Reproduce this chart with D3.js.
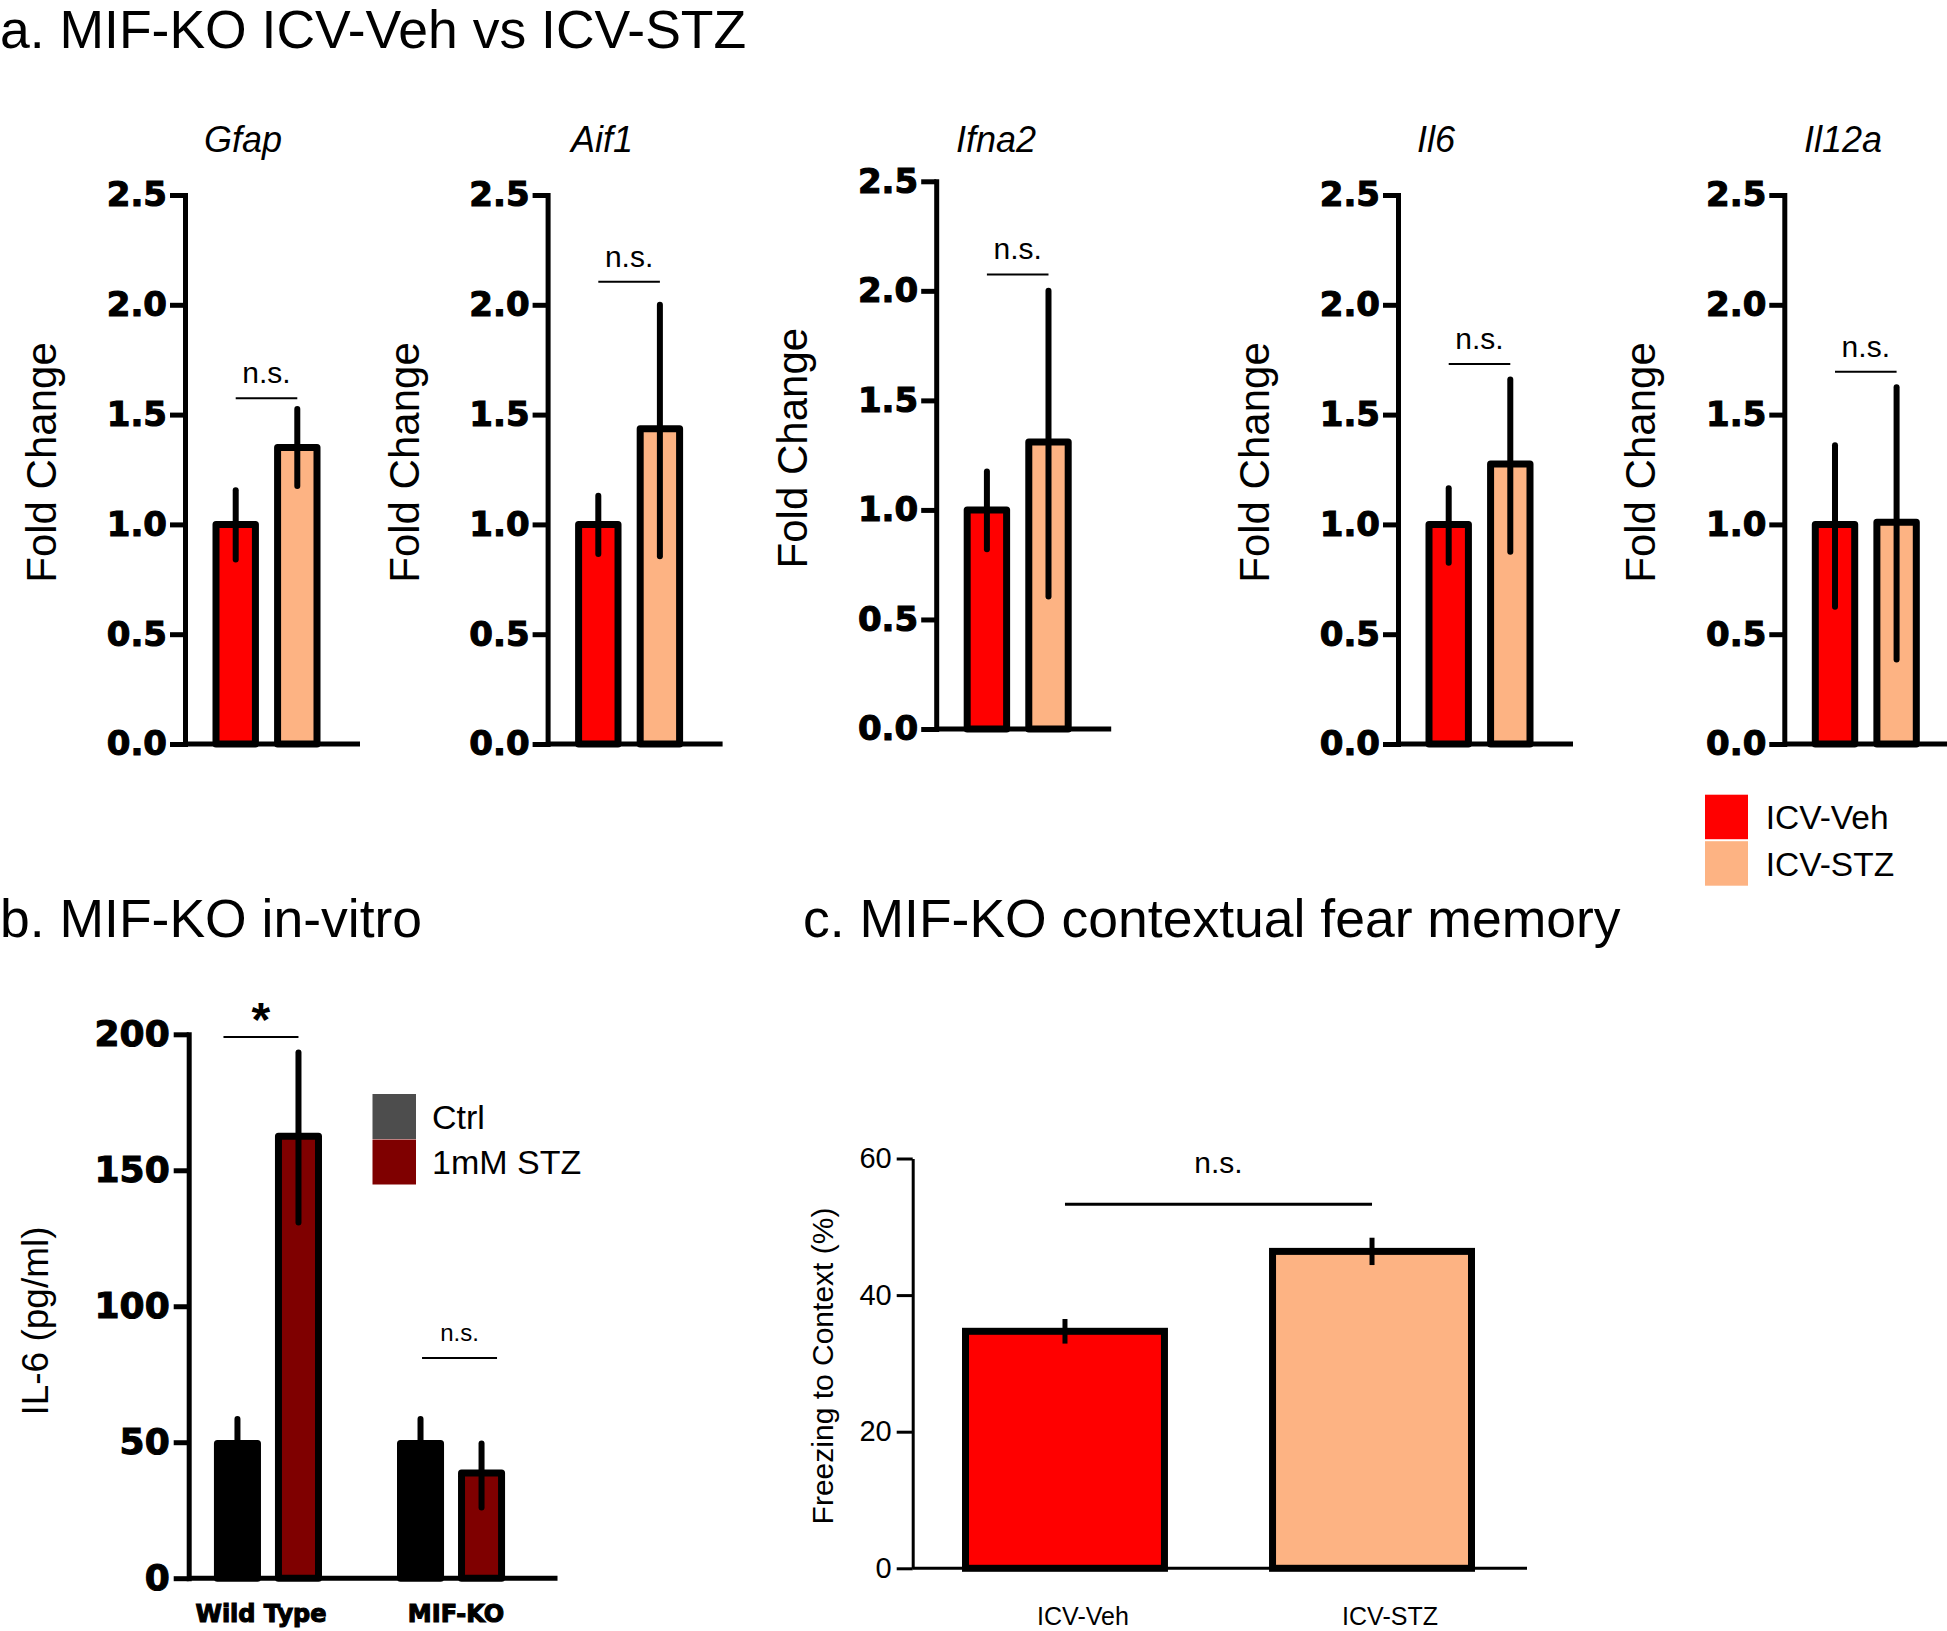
<!DOCTYPE html>
<html><head><meta charset="utf-8">
<script src="https://cdn.jsdelivr.net/npm/d3@7"></script>
<style>body{margin:0;background:#fff}svg{display:block}</style>
</head><body>
<svg id="chart" width="1947" height="1631"></svg>
<script>
// ---------------- DATA ----------------
// Panel a: fold change per gene
const genes = ["Gfap", "Aif1", "Ifna2", "Il6", "Il12a"];
const treatments = ["ICV-Veh", "ICV-STZ"];
const treatmentColors = ["#ff0000", "#fdb383"];
const vehMean = [1.00, 1.00, 1.00, 1.00, 1.00];
const vehUpper = [1.155, 1.13, 1.175, 1.165, 1.36];
const vehLower = [0.84, 0.865, 0.82, 0.825, 0.625];
const stzMean = [1.35, 1.435, 1.31, 1.275, 1.01];
const stzUpper = [1.525, 2.00, 2.00, 1.66, 1.625];
const stzLower = [1.175, 0.855, 0.605, 0.875, 0.385];
const sigLabelA = ["n.s.", "n.s.", "n.s.", "n.s.", "n.s."];
const sigLevelA = [1.575, 2.105, 2.075, 1.73, 1.695];
const foldTicks = [0, 0.5, 1.0, 1.5, 2.0, 2.5];

// Panel b: IL-6 in vitro
const genotypes = ["Wild Type", "MIF-KO"];
const conditions = ["Ctrl", "1mM STZ"];
const conditionBarColors = ["#000000", "#7f0000"];
const conditionLegendColors = ["#4d4d4d", "#7f0000"];
const il6Ctrl = [49.5, 49.5];
const il6CtrlUpper = [58.5, 58.5];
const il6CtrlLower = [40.5, 40.5];
const il6Stz = [162.5, 38.7];
const il6StzUpper = [193.3, 49.5];
const il6StzLower = [130.8, 26.0];
const sigLabelB = ["*", "n.s."];
const sigLevelB = [199, 81];
const il6Ticks = [0, 50, 100, 150, 200];

// Panel c: contextual fear memory
const freezeGroups = ["ICV-Veh", "ICV-STZ"];
const freezeMean = [34.7, 46.4];
const freezeUpper = [36.5, 48.4];
const freezeLower = [32.9, 44.4];
const sigLabelC = "n.s.";
const sigLevelC = 53.3;
const freezeTicks = [0, 20, 40, 60];

// ---------------- LAYOUT ----------------
const svg = d3.select("#chart");
const SANS = "'Liberation Sans', Arial, Helvetica, sans-serif";
const HEAVY = "'DejaVu Sans', sans-serif";

function txt(g, x, y, s, size, opts = {}) {
  return g.append("text").attr("x", x).attr("y", y).text(s)
    .attr("font-family", opts.family || SANS)
    .attr("font-size", size)
    .attr("font-weight", opts.weight || "normal")
    .attr("font-style", opts.style || "normal")
    .attr("text-anchor", opts.anchor || "start")
    .attr("fill", "#000");
}
function heavy(sel) {
  sel.attr("font-family", HEAVY).attr("font-weight", "bold")
    .attr("stroke", "#000").attr("stroke-width", 1.1).attr("fill", "#000");
}

// Panel titles
txt(svg, 0, 48, "a. MIF-KO ICV-Veh vs ICV-STZ", 53.5);
txt(svg, 0, 937, "b. MIF-KO in-vitro", 53.5);
txt(svg, 803, 937, "c. MIF-KO contextual fear memory", 53.5);

// ---- Panel a ----
const aAxisX = [185, 547.6, 936.2, 1398, 1784.3];
const aBottom = [744, 744, 729, 744, 744];
const aTop = [195, 195, 181.3, 195, 195];
const aTitleX = [243, 602, 996, 1436, 1843];

genes.forEach((gene, i) => {
  const g = svg.append("g");
  const ax = aAxisX[i];
  const y = d3.scaleLinear().domain([0, 2.5]).range([aBottom[i], aTop[i]]);
  const x = d3.scaleBand().domain(treatments)
    .range([ax + 31, ax + 132]).paddingInner(0.36).paddingOuter(0);

  const yAxis = g.append("g").attr("transform", `translate(${ax},0)`)
    .call(d3.axisLeft(y).tickValues(foldTicks).tickFormat(d3.format(".1f"))
      .tickSize(15).tickSizeOuter(0).tickPadding(3));
  yAxis.select(".domain").attr("stroke", "#000").attr("stroke-width", 5).attr("stroke-linecap", "square");
  yAxis.selectAll(".tick line").attr("stroke", "#000").attr("stroke-width", 5);
  yAxis.selectAll(".tick text").attr("font-size", 34).call(heavy);
  g.append("line").attr("x1", ax).attr("x2", ax + 175)
    .attr("y1", y(0)).attr("y2", y(0)).attr("stroke", "#000").attr("stroke-width", 5);

  const means = [vehMean[i], stzMean[i]];
  const ups = [vehUpper[i], stzUpper[i]];
  const los = [vehLower[i], stzLower[i]];
  treatments.forEach((t, j) => {
    g.append("rect").attr("x", x(t)).attr("y", y(means[j]))
      .attr("width", x.bandwidth()).attr("height", y(0) - y(means[j]))
      .attr("fill", treatmentColors[j]).attr("stroke", "#000").attr("stroke-width", 7)
      .attr("stroke-linejoin", "round");
  });
  treatments.forEach((t, j) => {
    const cx = x(t) + x.bandwidth() / 2;
    g.append("line").attr("x1", cx).attr("x2", cx)
      .attr("y1", y(ups[j])).attr("y2", y(los[j]))
      .attr("stroke", "#000").attr("stroke-width", 6).attr("stroke-linecap", "round");
  });
  const c0 = x(treatments[0]) + x.bandwidth() / 2, c1 = x(treatments[1]) + x.bandwidth() / 2;
  g.append("line").attr("x1", c0).attr("x2", c1)
    .attr("y1", y(sigLevelA[i])).attr("y2", y(sigLevelA[i]))
    .attr("stroke", "#000").attr("stroke-width", 2);
  txt(g, (c0 + c1) / 2, y(sigLevelA[i]) - 15, sigLabelA[i], 30, { anchor: "middle" });
  txt(g, aTitleX[i], 152, gene, 36, { style: "italic", anchor: "middle" });
  const ly = (aTop[i] + aBottom[i]) / 2 - 7;
  txt(g, 0, 0, "Fold Change", 42, { anchor: "middle" })
    .attr("transform", `translate(${ax - 144 + 15},${ly}) rotate(-90)`);
});

// legend a
const legA = svg.append("g");
const legAY = [794.7, 841.2];
treatments.forEach((t, j) => {
  legA.append("rect").attr("x", 1705).attr("y", legAY[j]).attr("width", 43).attr("height", 44.5)
    .attr("fill", treatmentColors[j]);
  txt(legA, 1765.7, legAY[j] + 22 + 12.5, t, 33.5);
});

// ---- Panel b ----
{
  const g = svg.append("g");
  const ax = 188.7;
  const y = d3.scaleLinear().domain([0, 200]).range([1578.2, 1034.3]);
  const x0 = d3.scaleBand().domain(genotypes).range([ax, 530.3]).paddingInner(0.448).paddingOuter(0.157);
  const x1 = d3.scaleBand().domain(conditions).range([0, x0.bandwidth()]).paddingInner(0.344).paddingOuter(0);

  const yAxis = g.append("g").attr("transform", `translate(${ax},0)`)
    .call(d3.axisLeft(y).tickValues(il6Ticks).tickSize(15).tickSizeOuter(0).tickPadding(4));
  yAxis.select(".domain").attr("stroke", "#000").attr("stroke-width", 5).attr("stroke-linecap", "square");
  yAxis.selectAll(".tick line").attr("stroke", "#000").attr("stroke-width", 5);
  yAxis.selectAll(".tick text").attr("font-size", 36).call(heavy);
  g.append("line").attr("x1", ax).attr("x2", 557.5).attr("y1", y(0)).attr("y2", y(0))
    .attr("stroke", "#000").attr("stroke-width", 5);

  const means = [il6Ctrl, il6Stz], ups = [il6CtrlUpper, il6StzUpper], los = [il6CtrlLower, il6StzLower];
  const labelShift = [-7, 5];
  genotypes.forEach((gt, i) => {
    conditions.forEach((cnd, j) => {
      g.append("rect").attr("x", x0(gt) + x1(cnd)).attr("y", y(means[j][i]))
        .attr("width", x1.bandwidth()).attr("height", y(0) - y(means[j][i]))
        .attr("fill", conditionBarColors[j]).attr("stroke", "#000").attr("stroke-width", 7)
        .attr("stroke-linejoin", "round");
    });
    conditions.forEach((cnd, j) => {
      const cx = x0(gt) + x1(cnd) + x1.bandwidth() / 2;
      g.append("line").attr("x1", cx).attr("x2", cx)
        .attr("y1", y(ups[j][i])).attr("y2", y(los[j][i]))
        .attr("stroke", "#000").attr("stroke-width", 6).attr("stroke-linecap", "round");
    });
    txt(g, x0(gt) + x0.bandwidth() / 2 + labelShift[i], 1622, gt, 24, { anchor: "middle" }).call(heavy);
  });
  const sigOffsets = [[-44.5, 30.5], [-29, 46]];
  genotypes.forEach((gt, i) => {
    const gc = x0(gt) + x0.bandwidth() / 2;
    const xa = gc + sigOffsets[i][0], xb = gc + sigOffsets[i][1];
    const ly = y(sigLevelB[i]);
    g.append("line").attr("x1", xa).attr("x2", xb).attr("y1", ly).attr("y2", ly)
      .attr("stroke", "#000").attr("stroke-width", 2);
    if (sigLabelB[i] === "*") {
      txt(g, (xa + xb) / 2, ly - 1, sigLabelB[i], 48, { anchor: "middle", weight: "bold" });
    } else {
      txt(g, (xa + xb) / 2, ly - 17, sigLabelB[i], 24, { anchor: "middle" });
    }
  });
  const legY = [1094, 1139.5];
  conditions.forEach((cnd, j) => {
    g.append("rect").attr("x", 372.5).attr("y", legY[j]).attr("width", 43.5).attr("height", 45)
      .attr("fill", conditionLegendColors[j]);
    txt(g, 432, legY[j] + 22.5 + 12, cnd, 34);
  });
  txt(g, 0, 0, "IL-6 (pg/ml)", 37, { anchor: "middle" })
    .attr("transform", `translate(${35 + 13},1321) rotate(-90)`);
}

// ---- Panel c ----
{
  const g = svg.append("g");
  const ax = 912.7;
  const y = d3.scaleLinear().domain([0, 60]).range([1568.3, 1158.5]);
  const x = d3.scaleBand().domain(freezeGroups).range([965.5, 1471.5]).paddingInner(0.352).paddingOuter(0);

  const yAxis = g.append("g").attr("transform", `translate(${ax},0)`)
    .call(d3.axisLeft(y).tickValues(freezeTicks).tickSize(16).tickSizeOuter(0).tickPadding(5));
  yAxis.select(".domain").attr("stroke", "#000").attr("stroke-width", 3);
  yAxis.selectAll(".tick line").attr("stroke", "#000").attr("stroke-width", 3);
  yAxis.selectAll(".tick text").attr("font-family", SANS).attr("font-size", 29).attr("fill", "#000");
  g.append("line").attr("x1", ax).attr("x2", 1527).attr("y1", y(0)).attr("y2", y(0))
    .attr("stroke", "#000").attr("stroke-width", 3);

  freezeGroups.forEach((fg, j) => {
    g.append("rect").attr("x", x(fg)).attr("y", y(freezeMean[j]))
      .attr("width", x.bandwidth()).attr("height", y(0) - y(freezeMean[j]))
      .attr("fill", treatmentColors[j]).attr("stroke", "#000").attr("stroke-width", 7);
  });
  freezeGroups.forEach((fg, j) => {
    const cx = x(fg) + x.bandwidth() / 2;
    g.append("line").attr("x1", cx).attr("x2", cx)
      .attr("y1", y(freezeUpper[j])).attr("y2", y(freezeLower[j]))
      .attr("stroke", "#000").attr("stroke-width", 5);
    txt(g, cx + 18, 1625, fg, 25, { anchor: "middle" });
  });
  const c0 = x(freezeGroups[0]) + x.bandwidth() / 2, c1 = x(freezeGroups[1]) + x.bandwidth() / 2;
  g.append("line").attr("x1", c0).attr("x2", c1).attr("y1", y(sigLevelC)).attr("y2", y(sigLevelC))
    .attr("stroke", "#000").attr("stroke-width", 3);
  txt(g, (c0 + c1) / 2, y(sigLevelC) - 31, sigLabelC, 30, { anchor: "middle" });
  txt(g, 0, 0, "Freezing to Context (%)", 30, { anchor: "middle" })
    .attr("transform", `translate(${822 + 11},1366) rotate(-90)`);
}
</script>
</body></html>
